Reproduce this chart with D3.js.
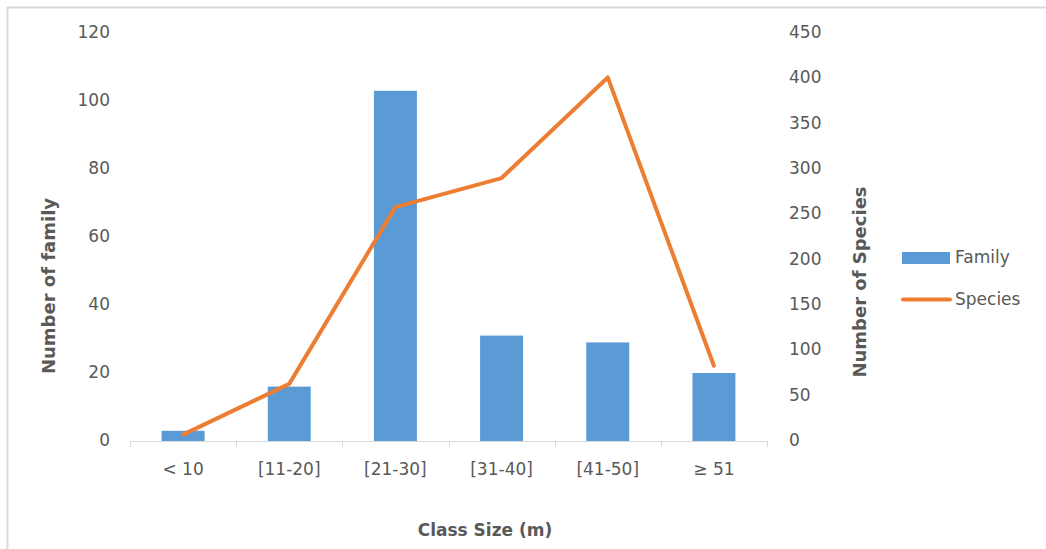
<!DOCTYPE html>
<html>
<head>
<meta charset="utf-8">
<script src="https://cdn.jsdelivr.net/npm/d3@7"></script>
<style>
  html, body { margin: 0; padding: 0; background: #fff; }
  svg { display: block; }
  text { font-family: "DejaVu Sans", sans-serif; fill: #595959; }
</style>
</head>
<body>
<svg id="chart" width="1046" height="549"></svg>
<script>
const categories = ["< 10", "[11-20]", "[21-30]", "[31-40]", "[41-50]", "\u2265 51"];
const familyValues = [3, 16, 103, 31, 29, 20];
const speciesValues = [7, 63, 258, 290, 401, 83];
const leftTicks = [0, 20, 40, 60, 80, 100, 120];
const rightTicks = [0, 50, 100, 150, 200, 250, 300, 350, 400, 450];

const svg = d3.select("#chart");
const W = 1046, H = 549;
const plot = { left: 130, right: 767, top: 33, bottom: 441 };

// border (top and left only visible)
svg.append("line").attr("x1", 7).attr("x2", W).attr("y1", 7.5).attr("y2", 7.5)
  .attr("stroke", "#d9d9d9").attr("stroke-width", 2);
svg.append("line").attr("x1", 7.5).attr("x2", 7.5).attr("y1", 7).attr("y2", H)
  .attr("stroke", "#d9d9d9").attr("stroke-width", 2);

const x = d3.scaleBand().domain(categories).range([plot.left, plot.right]).padding(0);
const yL = d3.scaleLinear().domain([0, 120]).range([plot.bottom, plot.top]);
const yR = d3.scaleLinear().domain([0, 450]).range([plot.bottom, plot.top]);

// bars
const barW = x.bandwidth() * 0.405;
svg.append("g").selectAll("rect").data(familyValues).join("rect")
  .attr("x", (d, i) => x(categories[i]) + x.bandwidth() / 2 - barW / 2)
  .attr("y", d => yL(d))
  .attr("width", barW)
  .attr("height", d => yL(0) - yL(d))
  .attr("fill", "#5b9bd5");

// x axis
const xAxis = svg.append("g").attr("transform", `translate(0,${plot.bottom})`);
xAxis.append("line").attr("x1", plot.left).attr("x2", plot.right).attr("y1", 0.5).attr("y2", 0.5)
  .attr("stroke", "#d9d9d9").attr("stroke-width", 1);
const bounds = categories.map(c => x(c)).concat([plot.right]);
xAxis.selectAll("line.tk").data(bounds).join("line").attr("class", "tk")
  .attr("x1", d => Math.round(d) + 0.5).attr("x2", d => Math.round(d) + 0.5)
  .attr("y1", 0).attr("y2", 6).attr("stroke", "#d9d9d9");
xAxis.selectAll("text").data(categories).join("text")
  .attr("x", d => x(d) + x.bandwidth() / 2)
  .attr("y", 29)
  .attr("text-anchor", "middle")
  .attr("dominant-baseline", "middle")
  .attr("font-size", 17)
  .text(d => d);

// left axis labels
svg.append("g").selectAll("text").data(leftTicks).join("text")
  .attr("x", 110).attr("y", d => yL(d))
  .attr("text-anchor", "end").attr("dominant-baseline", "middle")
  .attr("font-size", 17).text(d => d);

// right axis labels
svg.append("g").selectAll("text").data(rightTicks).join("text")
  .attr("x", 789).attr("y", d => yR(d))
  .attr("text-anchor", "start").attr("dominant-baseline", "middle")
  .attr("font-size", 17).text(d => d);

// line
const line = d3.line()
  .x((d, i) => x(categories[i]) + x.bandwidth() / 2)
  .y(d => yR(d));
svg.append("path").datum(speciesValues)
  .attr("d", line)
  .attr("fill", "none")
  .attr("stroke", "#ed7d31")
  .attr("stroke-width", 4)
  .attr("stroke-linejoin", "round")
  .attr("stroke-linecap", "round");

// axis titles
svg.append("text")
  .attr("transform", "translate(50,286) rotate(-90)")
  .attr("text-anchor", "middle").attr("dominant-baseline", "middle")
  .attr("font-size", 18).attr("font-weight", "bold")
  .text("Number of family");
svg.append("text")
  .attr("transform", "translate(861,282) rotate(-90)")
  .attr("text-anchor", "middle").attr("dominant-baseline", "middle")
  .attr("font-size", 18).attr("font-weight", "bold")
  .text("Number of Species");
svg.append("text")
  .attr("x", 485).attr("y", 531)
  .attr("text-anchor", "middle").attr("dominant-baseline", "middle")
  .attr("font-size", 17).attr("font-weight", "bold")
  .text("Class Size (m)");

// legend
const lg = svg.append("g");
lg.append("rect").attr("x", 902).attr("y", 252).attr("width", 48).attr("height", 12).attr("fill", "#5b9bd5");
lg.append("text").attr("x", 955).attr("y", 258).attr("dominant-baseline", "middle").attr("font-size", 17).text("Family");
lg.append("line").attr("x1", 903).attr("x2", 950).attr("y1", 299.5).attr("y2", 299.5)
  .attr("stroke", "#ed7d31").attr("stroke-width", 4).attr("stroke-linecap", "round");
lg.append("text").attr("x", 955).attr("y", 300).attr("dominant-baseline", "middle").attr("font-size", 17).text("Species");
</script>
</body>
</html>
